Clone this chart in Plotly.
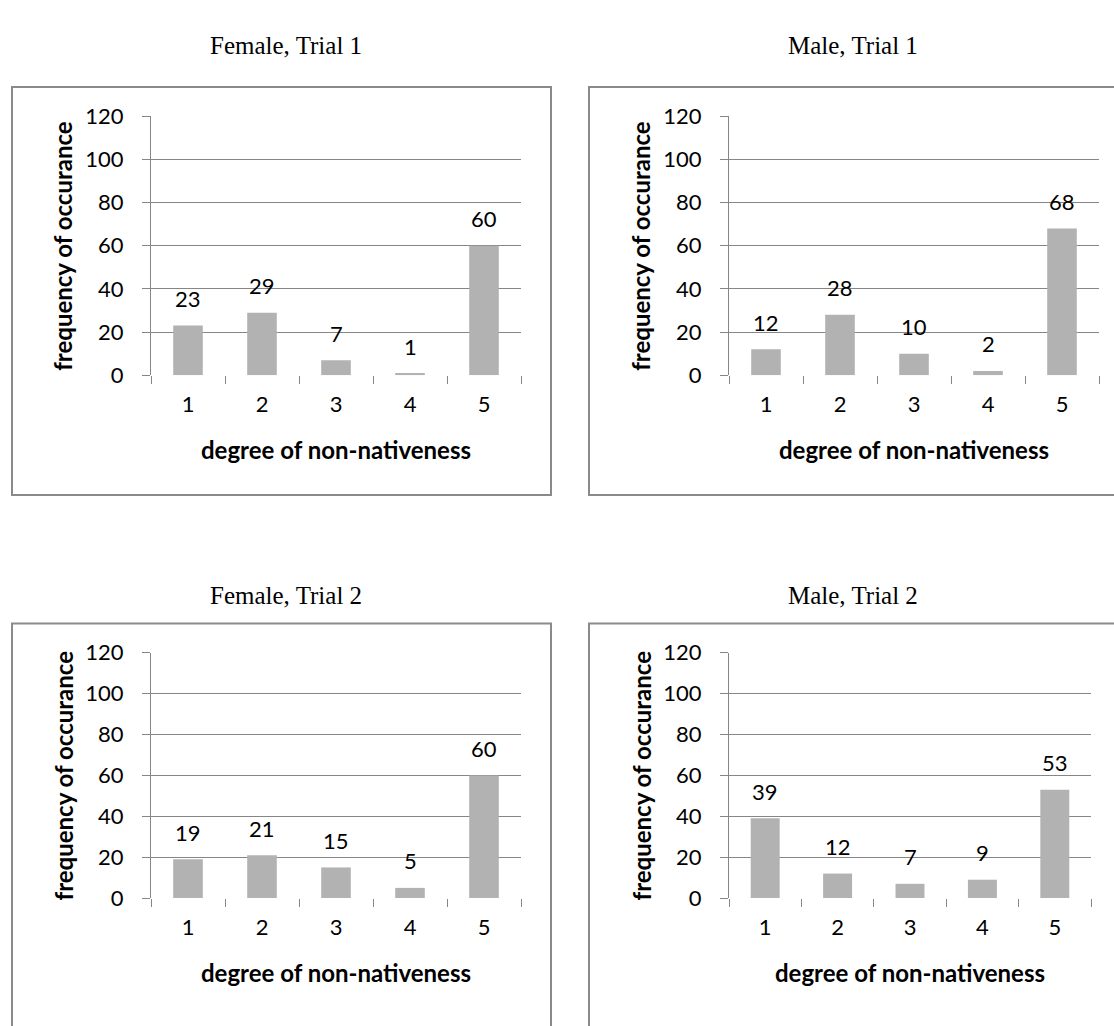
import plotly.graph_objects as go

W, H = 1114, 1026

categories = [1, 2, 3, 4, 5]
tick_labels = ["1", "2", "3", "4", "5"]
titles = ["Female, Trial 1", "Male, Trial 1", "Female, Trial 2", "Male, Trial 2"]
female_trial1 = [23, 29, 7, 1, 60]
male_trial1 = [12, 28, 10, 2, 68]
female_trial2 = [19, 21, 15, 5, 60]
male_trial2 = [39, 12, 7, 9, 53]
series = [female_trial1, male_trial1, female_trial2, male_trial2]
y_ticks = [0, 20, 40, 60, 80, 100, 120]
x_title = "degree of non-nativeness"
y_title = "frequency of occurance"

# pixel layout: plot x0..x1, y_top..y_bottom; box; title centre; axis title positions
panels = [
    dict(px=(151, 521), py=(105, 371), box=(12, 551, 75, 494), title=(286, 32), xt=447, yt=63),
    dict(px=(729, 1099), py=(105, 371), box=(589, 1129, 75, 494), title=(853, 32), xt=447, yt=641),
    dict(px=(151, 521), py=(656, 908), box=(12, 551, 626, 1060), title=(286, 597), xt=984, yt=63),
    dict(px=(729, 1091), py=(656, 908), box=(589, 1129, 626, 1060), title=(853, 597), xt=984, yt=641),
]

GRID = "#868686"
BAR = "#b2b2b2"
SANS = "Lato, 'Open Sans', sans-serif"
SERIF = "'Liberation Serif', 'Times New Roman', serif"
TICK_SIZE = 22
TITLE_SIZE = 24

fig = go.Figure()
shapes = []
annotations = []

for i, (p, vals) in enumerate(zip(panels, series)):
    n = "" if i == 0 else str(i + 1)
    xa, ya = "x" + n, "y" + n
    fig.add_trace(go.Bar(
        x=categories, y=vals, xaxis=xa, yaxis=ya,
        marker=dict(color=BAR, line=dict(width=0)),
        width=0.4, showlegend=False, hoverinfo="x+y",
    ))
    x0, x1 = p["px"]
    yt, yb = p["py"]
    fig.update_layout(**{
        "xaxis" + n: dict(
            domain=[x0 / W, x1 / W], anchor=ya, range=[0.5, 5.5],
            tickvals=categories, ticktext=tick_labels, ticks="",
            showgrid=False, zeroline=False, showline=False,
            tickfont=dict(family=SANS, size=TICK_SIZE, color="black"),
            ticklabelstandoff=14,
            minor=dict(tickvals=[0.5, 1.5, 2.5, 3.5, 4.5, 5.5], ticks="outside",
                       ticklen=8, tickcolor=GRID, tickwidth=1, showgrid=False),
            fixedrange=True,
        ),
        "yaxis" + n: dict(
            domain=[1 - yb / H, 1 - yt / H], anchor=xa, range=[0, 120],
            tickvals=y_ticks, ticks="outside", ticklen=8, tickcolor=GRID, tickwidth=1,
            showgrid=True, gridcolor=GRID, gridwidth=1, zeroline=False,
            showline=True, linecolor=GRID, linewidth=1,
            tickfont=dict(family=SANS, size=TICK_SIZE, color="black"),
            ticklabelstandoff=14,
            fixedrange=True,
        ),
    })
    for c, v in zip(categories, vals):
        annotations.append(dict(
            x=c, y=v, xref=xa, yref=ya, text=str(v), showarrow=False,
            yanchor="middle", yshift=27,
            font=dict(family=SANS, size=TICK_SIZE, color="black"),
        ))
    bx0, bx1, by0, by1 = p["box"]
    shapes.append(dict(type="rect", xref="paper", yref="paper",
                       x0=bx0 / W, x1=bx1 / W, y0=1 - by1 / H, y1=1 - by0 / H,
                       line=dict(color="#8a8a8a", width=2), layer="below"))
    tx, ty = p["title"]
    annotations.append(dict(x=tx / W, y=1 - ty / H, xref="paper", yref="paper",
                            text=titles[i], showarrow=False, xanchor="center", yanchor="middle",
                            font=dict(family=SERIF, size=25, color="black")))
    annotations.append(dict(x=(x0 + x1) / 2 / W, y=1 - p["xt"] / H, xref="paper", yref="paper",
                            text="<b>" + x_title + "</b>", showarrow=False,
                            xanchor="center", yanchor="middle",
                            font=dict(family=SANS, size=TITLE_SIZE, color="black")))
    annotations.append(dict(x=p["yt"] / W, y=1 - (yt + yb) / 2 / H, xref="paper", yref="paper",
                            text="<b>" + y_title + "</b>", showarrow=False, textangle=-90,
                            xanchor="center", yanchor="middle",
                            font=dict(family=SANS, size=TITLE_SIZE, color="black")))

fig.update_layout(
    width=W, height=H, margin=dict(l=0, r=0, t=0, b=0),
    paper_bgcolor="white", plot_bgcolor="white",
    shapes=shapes, annotations=annotations, bargap=0.6,
)

fig.write_html("out.html", config={"displayModeBar": False})
